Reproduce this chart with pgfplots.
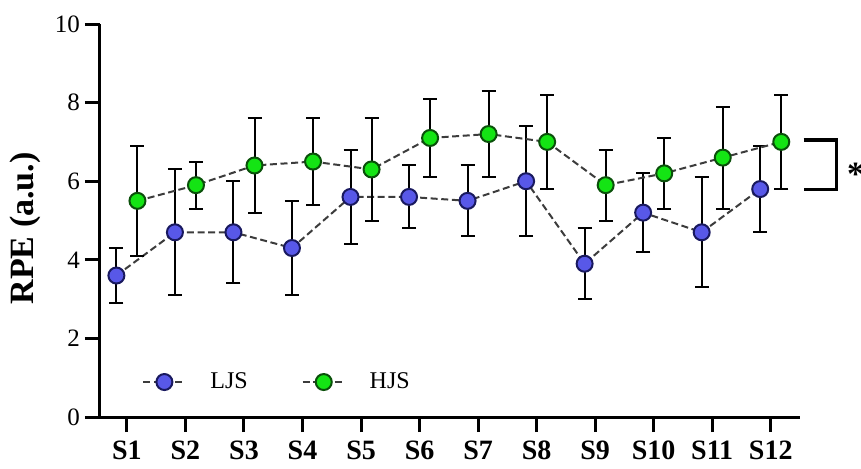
\documentclass[border=0pt]{standalone}
\usepackage{fontspec}
\setmainfont{Liberation Serif}
\usepackage{pgfplots}
\pgfplotsset{compat=1.18}

\definecolor{ljsfill}{RGB}{88,88,232}
\definecolor{ljsdraw}{RGB}{25,25,95}
\definecolor{hjsfill}{RGB}{20,228,20}
\definecolor{hjsdraw}{RGB}{10,80,10}
\definecolor{dashgray}{RGB}{60,60,60}

% session, mean, sd  (points shifted left/right of the tick)
\pgfplotstableread{
x    y    e
0.82 3.6  0.7
1.82 4.7  1.6
2.82 4.7  1.3
3.82 4.3  1.2
4.82 5.6  1.2
5.82 5.6  0.8
6.82 5.5  0.9
7.82 6.0  1.4
8.82 3.9  0.9
9.82 5.2  1.0
10.82 4.7 1.4
11.82 5.8 1.1
}\ljs
\pgfplotstableread{
x    y    e
1.18 5.5  1.4
2.18 5.9  0.6
3.18 6.4  1.2
4.18 6.5  1.1
5.18 6.3  1.3
6.18 7.1  1.0
7.18 7.2  1.1
8.18 7.0  1.2
9.18 5.9  0.9
10.18 6.2 0.9
11.18 6.6 1.3
12.18 7.0 1.2
}\hjs

\begin{document}
\begin{tikzpicture}
\begin{axis}[
  name=ax, at={(0,0)}, anchor=south west,
  scale only axis, width=350pt, height=196.5pt,
  xmin=0.54, xmax=12.5, ymin=0, ymax=10,
  axis x line=bottom, axis y line=left,
  axis line style={line width=1.5pt, -},
  every tick/.style={black, line width=1.5pt},
  tick align=outside, major tick length=7.5pt,
  xtick={1,...,12},
  xticklabels={S1,S2,S3,S4,S5,S6,S7,S8,S9,S10,S11,S12},
  xticklabel style={font=\fontsize{14}{16}\selectfont\bfseries, yshift=-1pt},
  ytick={0,2,...,10},
  yticklabel style={font=\fontsize{12.5}{14}\selectfont, xshift=1pt},
  /pgf/number format/assume math mode=true,
  ylabel={RPE (a.u.)},
  ylabel style={font=\fontsize{17}{19}\selectfont\bfseries, at={(axis description cs:-0.107,0.48)}, anchor=center},
  clip=false,
  legend columns=2,
  legend style={draw=none, fill=none, inner sep=0pt, at={(axis description cs:0.06,0.089)}, anchor=west,
    font=\fontsize{12}{14}\selectfont,
    /tikz/every odd column/.append style={column sep=10pt},
    /tikz/every even column/.append style={column sep=25pt}},
  legend image code/.code={\draw[mark repeat=2,mark phase=2] plot coordinates {(0pt,0pt) (10.5pt,0pt) (21pt,0pt)};},
  every axis plot/.append style={line width=1pt, dash pattern=on 3.5pt off 1.8pt, color=dashgray},
]
\pgfplotsset{error bars/.cd, y dir=both, y explicit,
  error bar style={solid, black, line width=1pt},
  error mark options={rotate=90, mark size=3.5pt, black, line width=1pt, solid}}
\addplot[mark=*, mark size=4pt, mark options={solid, fill=ljsfill, draw=ljsdraw, line width=1pt}]
  table[x=x, y=y, y error=e] {\ljs};
\addlegendentry{LJS}
\addplot[mark=*, mark size=4pt, mark options={solid, fill=hjsfill, draw=hjsdraw, line width=1pt}]
  table[x=x, y=y, y error=e] {\hjs};
\addlegendentry{HJS}
\draw[line width=1.6pt, black] (axis cs:12.56,7.05) -| (axis cs:13.12,5.78) -- (axis cs:12.56,5.78);
\node[anchor=base west, inner sep=0pt, font=\fontsize{17}{19}\selectfont\bfseries] at (axis cs:13.3,5.9) {*};
\end{axis}
\pgfresetboundingbox
\path[use as bounding box] ([shift={(-50pt,-25.5pt)}]ax.south west) rectangle ([shift={(380.5pt,208.5pt)}]ax.south west);
\end{tikzpicture}
\end{document}
